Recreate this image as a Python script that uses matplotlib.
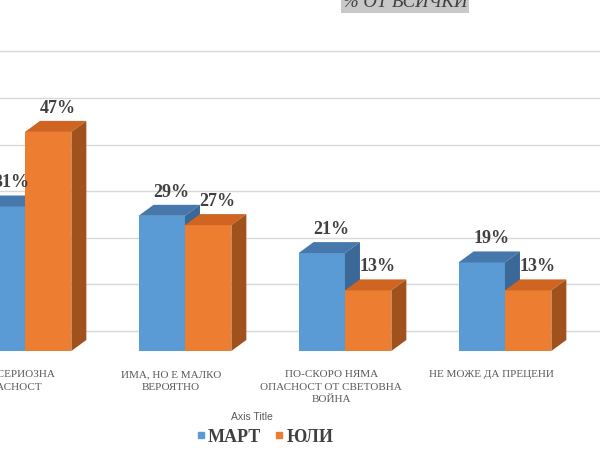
"""3D-look grouped bar chart: % ОТ ВСИЧКИ, МАРТ vs ЮЛИ."""

import matplotlib
matplotlib.use("Agg")
import matplotlib.pyplot as plt
import matplotlib.transforms as mtransforms
from matplotlib.patches import Polygon
from matplotlib.lines import Line2D

categories = [
    "ИМА СЕРИОЗНА\nОПАСНОСТ",
    "ИМА, НО Е МАЛКО\nВЕРОЯТНО",
    "ПО-СКОРО НЯМА\nОПАСНОСТ ОТ СВЕТОВНА\nВОЙНА",
    "НЕ МОЖЕ ДА ПРЕЦЕНИ",
]
mart = [31, 29, 21, 19]
yuli = [47, 27, 13, 13]
series_names = ["МАРТ", "ЮЛИ"]
grid_values = [0, 10, 20, 30, 40, 50, 60]

SERIF = ["Liberation Serif", "DejaVu Serif"]
blue = {"front": "#5b9bd5", "top": "#4678ab", "side": "#3b6896"}
orange = {"front": "#ed7d31", "top": "#cf6520", "side": "#a1521c"}

fig = plt.figure(figsize=(6, 4.5), dpi=100)
ax = fig.add_axes([0, 99 / 450, 1, 351 / 450])
ax.set_xlim(-0.156, 3.594)
ax.set_ylim(0, 75.3)
ax.axis("off")

# depth of the bars (in data units)
bw = 0.29
dx = 15 / 160
dy = 11 / 4.66

# back-wall gridlines, shifted up like the excel 3d wall
wall = ax.get_yaxis_transform() + mtransforms.ScaledTranslation(0, 20 / 100, fig.dpi_scale_trans)
for v in grid_values:
    ax.plot([0, 1], [v, v], transform=wall, color="#d9d9d9", lw=1, zorder=0)


def bar3d(x0, h, colors, z):
    ax.bar(x0, h, width=bw, align="edge", color=colors["front"], zorder=z, lw=0)
    x1 = x0 + bw
    ax.add_patch(Polygon([(x0, h), (x1, h), (x1 + dx, h + dy), (x0 + dx, h + dy)],
                         closed=True, fc=colors["top"], ec="none", zorder=z))
    ax.add_patch(Polygon([(x1, 0), (x1 + dx, dy), (x1 + dx, h + dy), (x1, h)],
                         closed=True, fc=colors["side"], ec="none", zorder=z))
    ax.annotate(f"{h}%", (x0 + bw / 2 + dx / 2, h + dy), xytext=(1.5, 3),
                textcoords="offset points", ha="center", va="bottom",
                fontsize=13, fontweight="bold", color="#404040", family=SERIF, zorder=10)


for i in range(len(categories)):
    bar3d(i - bw, mart[i], blue, 2)
    bar3d(i, yuli[i], orange, 3)
    ax.annotate(categories[i], (i, 0), xytext=(-10, -14), textcoords="offset points",
                ha="center", va="top", fontsize=8, color="#595959", family=SERIF,
                linespacing=1.45, annotation_clip=False)

fig.text(252 / 600, 1 - 417 / 450, "Axis Title", ha="center", va="center",
         fontsize=7.5, color="#595959", family=["Liberation Sans", "DejaVu Sans"])

handles = [Line2D([], [], ls="none", marker="s", markersize=5, color=blue["front"]),
           Line2D([], [], ls="none", marker="s", markersize=5, color=orange["front"])]
leg = fig.legend(handles, series_names, loc="center", bbox_to_anchor=(265 / 600, 1 - 437 / 450),
                 ncol=2, frameon=False, handlelength=0.45, handletextpad=0.15, columnspacing=0.8,
                 prop={"family": SERIF, "weight": "bold", "size": 13})
for t in leg.get_texts():
    t.set_color("#404040")

fig.text(405 / 600, 1 - 7 / 450, "% ОТ ВСИЧКИ", ha="center", va="baseline",
         fontsize=13.5, style="italic", color="#404040", family=SERIF,
         bbox=dict(facecolor="#c8c8c8", edgecolor="none", pad=1.5))

fig.savefig("out.png", dpi=100)
